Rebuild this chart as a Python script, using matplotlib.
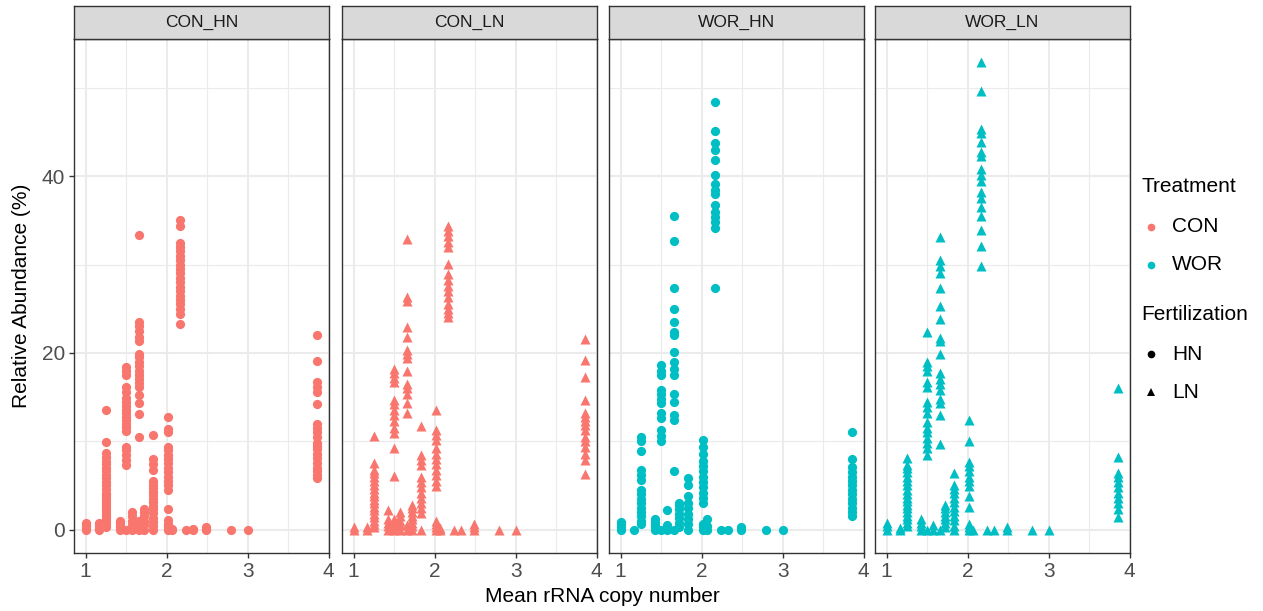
import numpy as np
import matplotlib
matplotlib.use('Agg')
from matplotlib import pyplot as plt
from matplotlib.lines import Line2D

plt.rcParams['font.family'] = ['Liberation Sans', 'DejaVu Sans']

# mean rRNA copy number of each taxon column (shared by all panels)
copy_number = [1.0, 1.17, 1.25, 1.42, 1.50, 1.57, 1.66, 1.72, 1.83, 2.02,
               2.06, 2.16, 2.24, 2.33, 2.48, 2.80, 3.0, 3.86]

# relative abundance (%) per column, one list per panel
con_hn = [
    [0, 0.2, 0.4, 0.6, 0.8],
    [0, 0.2, 0.5, 0.7],
    [0.3, 0.6, 0.9, 1.2, 1.5, 1.8, 2.1, 2.4, 2.7, 3.0, 3.3, 3.6, 3.9, 4.2, 4.6,
     5.0, 5.4, 5.8, 6.2, 6.6, 7.0, 7.4, 7.8, 8.2, 8.7, 9.9, 13.6],
    [0, 0.3, 0.6, 0.9, 1.0],
    [0, 7.3, 7.9, 8.5, 9.0, 9.4, 11.2, 11.6, 12.0, 12.4, 12.8, 13.2, 13.6, 14.0,
     14.5, 14.9, 15.6, 16.2, 17.5, 18.0, 18.4],
    [0, 0.5, 1.0, 1.5, 2.0],
    [0, 0.5, 1.0, 10.5, 13.1, 14.3, 15.2, 16.1, 16.6, 17.0, 17.5, 18.0, 18.5,
     19.0, 19.5, 19.9, 21.4, 21.8, 22.5, 23.0, 23.5, 33.4],
    [0, 0.5, 1.0, 1.5, 2.0, 2.3],
    [0, 0.4, 0.9, 1.3, 1.9, 2.3, 2.7, 3.1, 3.5, 3.9, 4.3, 4.7, 5.1, 5.5, 6.8,
     7.4, 8.0, 10.7],
    [0, 0.3, 0.6, 1.1, 2.3, 4.5, 5.0, 5.5, 6.0, 6.5, 7.0, 7.5, 8.0, 8.5, 9.0,
     9.4, 11.0, 11.4, 12.8],
    [0, 0.1],
    [23.3, 24.4, 25.0, 25.5, 26.0, 26.5, 27.0, 27.5, 28.0, 28.5, 29.0, 29.5,
     30.0, 30.5, 31.0, 31.5, 32.0, 32.5, 34.4, 35.0],
    [0],
    [0, 0.1],
    [0, 0.1, 0.3],
    [0],
    [0],
    [5.8, 6.2, 6.6, 7.0, 7.5, 8.1, 8.6, 9.1, 9.5, 9.8, 10.5, 11.0, 11.5, 12.0,
     14.2, 15.6, 16.2, 16.7, 19.1, 22.0],
]

con_ln = [
    [0, 0.3],
    [0, 0.3],
    [0.3, 0.6, 1.0, 1.4, 1.8, 2.2, 2.6, 3.0, 3.4, 3.8, 4.2, 4.6, 5.0, 5.5, 6.0,
     6.4, 6.8, 7.5, 10.6],
    [0, 0.4, 0.8, 1.2, 2.2],
    [0, 0.4, 0.8, 1.2, 6.1, 9.2, 10.9, 11.5, 12.3, 13.0, 13.6, 14.2, 14.7, 16.7,
     17.2, 17.7, 18.2],
    [0, 0.5, 1.0, 1.5, 2.0],
    [0, 0.5, 13.2, 14.3, 15.4, 16.0, 16.5, 18.0, 19.4, 19.9, 20.3, 21.8, 22.9,
     25.9, 26.3, 32.9],
    [0, 0.4, 0.8, 1.2, 1.6, 2.0, 2.4, 2.8],
    [0, 1.9, 2.4, 3.0, 3.6, 4.2, 4.8, 5.4, 6.0, 7.3, 7.9, 8.5, 11.7],
    [0, 0.3, 0.6, 1.0, 4.9, 5.5, 6.2, 6.8, 7.4, 8.0, 8.6, 9.2, 10.2, 10.7, 11.3,
     13.5],
    [0, 0.2],
    [24.1, 24.5, 25.0, 25.6, 26.3, 27.0, 27.6, 28.3, 28.9, 30.1, 32.0, 32.6,
     33.2, 33.8, 34.4],
    [0],
    [0],
    [0, 0.3, 0.6],
    [0],
    [0],
    [6.3, 7.9, 8.6, 9.3, 10.0, 10.5, 11.3, 11.8, 12.3, 12.8, 13.2, 14.7, 17.3,
     19.2, 21.6],
]

wor_hn = [
    [0, 0.3, 0.6, 0.9],
    [0],
    [0.6, 1.0, 1.5, 2.0, 2.5, 3.0, 3.5, 4.0, 4.5, 5.6, 6.2, 6.8, 8.9, 10.0, 10.5],
    [0, 0.3, 0.6, 0.9, 1.2],
    [0, 10.0, 10.6, 11.3, 12.6, 13.2, 14.3, 14.8, 15.3, 15.8, 17.5, 18.0, 18.6],
    [0, 0.5, 2.2],
    [0, 6.6, 12.4, 13.0, 14.5, 15.4, 17.5, 18.2, 19.0, 20.1, 22.0, 22.4, 23.5,
     25.0, 27.4, 32.7, 35.5],
    [0.3, 0.8, 1.3, 1.8, 2.3, 2.8, 3.0],
    [0, 0.6, 1.2, 1.8, 2.4, 3.0, 3.8, 5.1, 5.8],
    [0, 0.3, 0.6, 3.0, 3.6, 4.2, 4.8, 5.4, 6.0, 6.6, 7.2, 7.8, 8.6, 9.4, 10.2],
    [0, 0.4, 1.2],
    [27.4, 34.2, 34.8, 35.4, 36.0, 36.7, 38.0, 38.5, 39.1, 40.2, 41.8, 43.0,
     43.8, 45.1, 48.4],
    [0],
    [0],
    [0, 0.3],
    [0],
    [0],
    [1.5, 2.0, 2.5, 3.0, 3.5, 4.0, 4.5, 5.0, 5.5, 6.0, 6.5, 7.1, 8.0, 11.0],
]

wor_ln = [
    [0, 0.4, 0.8],
    [0, 0.2],
    [0.4, 0.8, 1.2, 1.6, 2.0, 2.4, 2.8, 3.2, 3.6, 4.0, 4.5, 5.0, 5.5, 6.0, 6.5,
     7.0, 7.3, 8.1],
    [0, 0.4, 0.8, 1.2],
    [0, 8.5, 9.2, 9.8, 10.4, 11.0, 11.5, 12.2, 13.2, 13.9, 14.5, 16.2, 16.7,
     18.0, 18.5, 19.0, 22.4],
    [0, 0.5],
    [0, 9.7, 13.0, 14.3, 14.8, 15.8, 16.5, 17.1, 17.7, 19.9, 21.4, 21.7, 23.9,
     25.3, 27.3, 29.1, 29.8, 30.5, 33.1],
    [0.3, 0.8, 1.2, 1.6, 2.0, 2.5, 2.8],
    [0, 0.4, 1.1, 1.6, 2.1, 2.6, 3.1, 3.6, 4.1, 4.6, 5.1, 6.4],
    [0, 0.3, 0.6, 2.6, 3.8, 4.9, 5.5, 6.0, 6.6, 7.2, 7.7, 10.0, 12.4],
    [0],
    [29.8, 32.1, 33.9, 35.5, 36.5, 37.6, 38.2, 39.5, 40.2, 40.8, 42.3, 42.7,
     43.9, 44.9, 45.3, 49.7, 52.9],
    [0],
    [0],
    [0, 0.3],
    [0],
    [0],
    [1.4, 2.3, 3.0, 3.6, 4.2, 4.8, 5.4, 6.0, 6.4, 8.2, 16.0],
]

panel_names = ['CON_HN', 'CON_LN', 'WOR_HN', 'WOR_LN']
panel_data = [con_hn, con_ln, wor_hn, wor_ln]
treatments = ['CON', 'WOR']
fertilizations = ['HN', 'LN']
treat_colors = {'CON': '#F8766D', 'WOR': '#00BFC4'}
fert_markers = {'HN': 'o', 'LN': '^'}

W, H = 1263, 611
fig = plt.figure(figsize=(W / 100, H / 100), dpi=100)

panel_left = [74, 342, 609, 875]
panel_w = 255
panel_top, panel_bot = 39, 553
strip_top = 6

ymax = max(max(v) for col in panel_data for v in col)
ylim = (-0.05 * ymax, 1.05 * ymax)
xlim = (copy_number[0] - 0.05 * (copy_number[-1] - copy_number[0]),
        copy_number[-1] + 0.05 * (copy_number[-1] - copy_number[0]))

for i, (name, data) in enumerate(zip(panel_names, panel_data)):
    treat, fert = name.split('_')
    x0 = panel_left[i]
    ax = fig.add_axes([x0 / W, 1 - panel_bot / H, panel_w / W,
                       (panel_bot - panel_top) / H])
    xs = np.concatenate([[c] * len(v) for c, v in zip(copy_number, data)])
    ys = np.concatenate([v for v in data])
    size = 44 if fert == 'HN' else 52
    ax.scatter(xs, ys, s=size, marker=fert_markers[fert],
               color=treat_colors[treat], linewidths=0, zorder=3)
    ax.set_xlim(xlim)
    ax.set_ylim(ylim)
    ax.set_xticks([1, 2, 3, 4])
    ax.set_xticks([1.5, 2.5, 3.5], minor=True)
    ax.set_yticks([0, 20, 40])
    ax.set_yticks([10, 30, 50], minor=True)
    ax.grid(True, which='major', color='#EBEBEB', linewidth=1.5, zorder=0)
    ax.grid(True, which='minor', color='#EBEBEB', linewidth=0.8, zorder=0)
    ax.set_axisbelow(True)
    for sp in ax.spines.values():
        sp.set_color('#333333')
        sp.set_linewidth(1.0)
    ax.tick_params(which='major', length=3.5, width=1.0, color='#333333',
                   labelcolor='#4D4D4D', labelsize=15, pad=3)
    ax.tick_params(which='minor', length=0)
    if i > 0:
        ax.tick_params(axis='y', which='major', length=0, labelleft=False)

    # facet strip
    sax = fig.add_axes([x0 / W, 1 - panel_top / H, panel_w / W,
                        (panel_top - strip_top) / H])
    sax.set_facecolor('#D9D9D9')
    sax.set_xticks([])
    sax.set_yticks([])
    for sp in sax.spines.values():
        sp.set_color('#333333')
        sp.set_linewidth(1.0)
    sax.text(0.5, 0.5, name, ha='center', va='center', fontsize=12.5,
             color='#1A1A1A', transform=sax.transAxes)

fig.text(602 / W, 1 - 597 / H, 'Mean rRNA copy number', ha='center',
         va='center', fontsize=15, color='black')
fig.text(22 / W, 1 - 296 / H, 'Relative Abundance (%)', ha='center',
         va='center', rotation=90, fontsize=15, color='black')

# legends
fig.text(1141 / W, 1 - 187 / H, 'Treatment', ha='left', va='center',
         fontsize=15, color='black')
for j, t in enumerate(treatments):
    yy = 1 - (227 + 38 * j) / H
    fig.add_artist(Line2D([1151 / W], [yy], marker='o', markersize=5.5,
                          color=treat_colors[t], markeredgewidth=0,
                          linestyle='none', transform=fig.transFigure))
    fig.text(1172 / W, yy, t, ha='left', va='center', fontsize=15,
             color='black')

fig.text(1141 / W, 1 - 315 / H, 'Fertilization', ha='left', va='center',
         fontsize=15, color='black')
for j, f in enumerate(fertilizations):
    yy = 1 - (354 + 38 * j) / H
    fig.add_artist(Line2D([1151 / W], [yy], marker=fert_markers[f],
                          markersize=5.5, color='black', markeredgewidth=0,
                          linestyle='none', transform=fig.transFigure))
    fig.text(1172 / W, yy, f, ha='left', va='center', fontsize=15,
             color='black')

fig.savefig('out.png', dpi=100)
